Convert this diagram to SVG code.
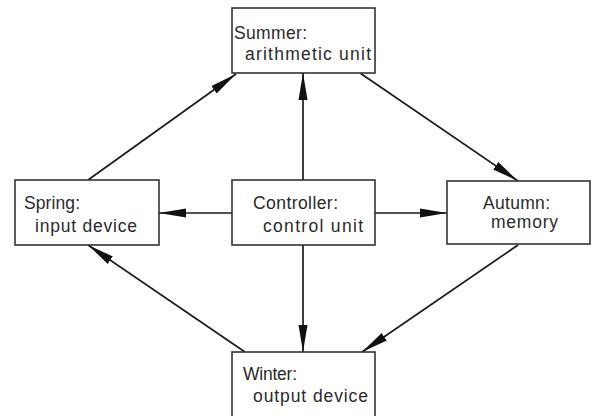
<svg xmlns="http://www.w3.org/2000/svg" width="591" height="416" viewBox="0 0 591 416">
<defs>
<marker id="arr" markerUnits="userSpaceOnUse" markerWidth="28" markerHeight="12" refX="27" refY="6" orient="auto">
<path d="M0,1.5 L27,6 L0,10.5 Z" fill="#111"/>
</marker>
<style>
.box{fill:#fff;stroke:#333;stroke-width:1.6}
.lbl{font-family:"Liberation Sans",Arial,sans-serif;font-size:17.5px;fill:#2a2a2a}
.con{stroke:#1a1a1a;stroke-width:1.7;fill:none;marker-end:url(#arr)}
</style>
</defs>
<rect width="591" height="416" fill="#fff"/>
<g id="connectors">
<line class="con" x1="88" y1="180" x2="236" y2="74"/>
<line class="con" x1="303" y1="180" x2="303" y2="73"/>
<line class="con" x1="360" y1="73" x2="518" y2="181"/>
<line class="con" x1="232" y1="213" x2="159" y2="213"/>
<line class="con" x1="375" y1="213" x2="447" y2="213"/>
<line class="con" x1="518" y1="245" x2="362" y2="352"/>
<line class="con" x1="303" y1="245" x2="303" y2="352"/>
<line class="con" x1="245" y1="352" x2="88" y2="245"/>
</g>
<g id="summer">
<rect class="box" x="232" y="8" width="143" height="65"/>
<text class="lbl" x="234" y="39" textLength="73" lengthAdjust="spacing">Summer:</text>
<text class="lbl" x="245" y="60" textLength="126" lengthAdjust="spacing">arithmetic unit</text>
</g>
<g id="spring">
<rect class="box" x="15" y="180" width="144" height="65"/>
<text class="lbl" x="24" y="209" textLength="56" lengthAdjust="spacing">Spring:</text>
<text class="lbl" x="35" y="232" textLength="102" lengthAdjust="spacing">input device</text>
</g>
<g id="controller">
<rect class="box" x="232" y="180" width="143" height="65"/>
<text class="lbl" x="253" y="209" textLength="85" lengthAdjust="spacing">Controller:</text>
<text class="lbl" x="263" y="232" textLength="100" lengthAdjust="spacing">control unit</text>
</g>
<g id="autumn">
<rect class="box" x="447" y="181" width="143" height="63"/>
<text class="lbl" x="483" y="209" textLength="67" lengthAdjust="spacing">Autumn:</text>
<text class="lbl" x="491" y="228" textLength="67" lengthAdjust="spacing">memory</text>
</g>
<g id="winter">
<rect class="box" x="232" y="352" width="143" height="80"/>
<text class="lbl" x="243" y="380" textLength="54" lengthAdjust="spacing">Winter:</text>
<text class="lbl" x="253" y="402" textLength="115" lengthAdjust="spacing">output device</text>
</g>
</svg>
